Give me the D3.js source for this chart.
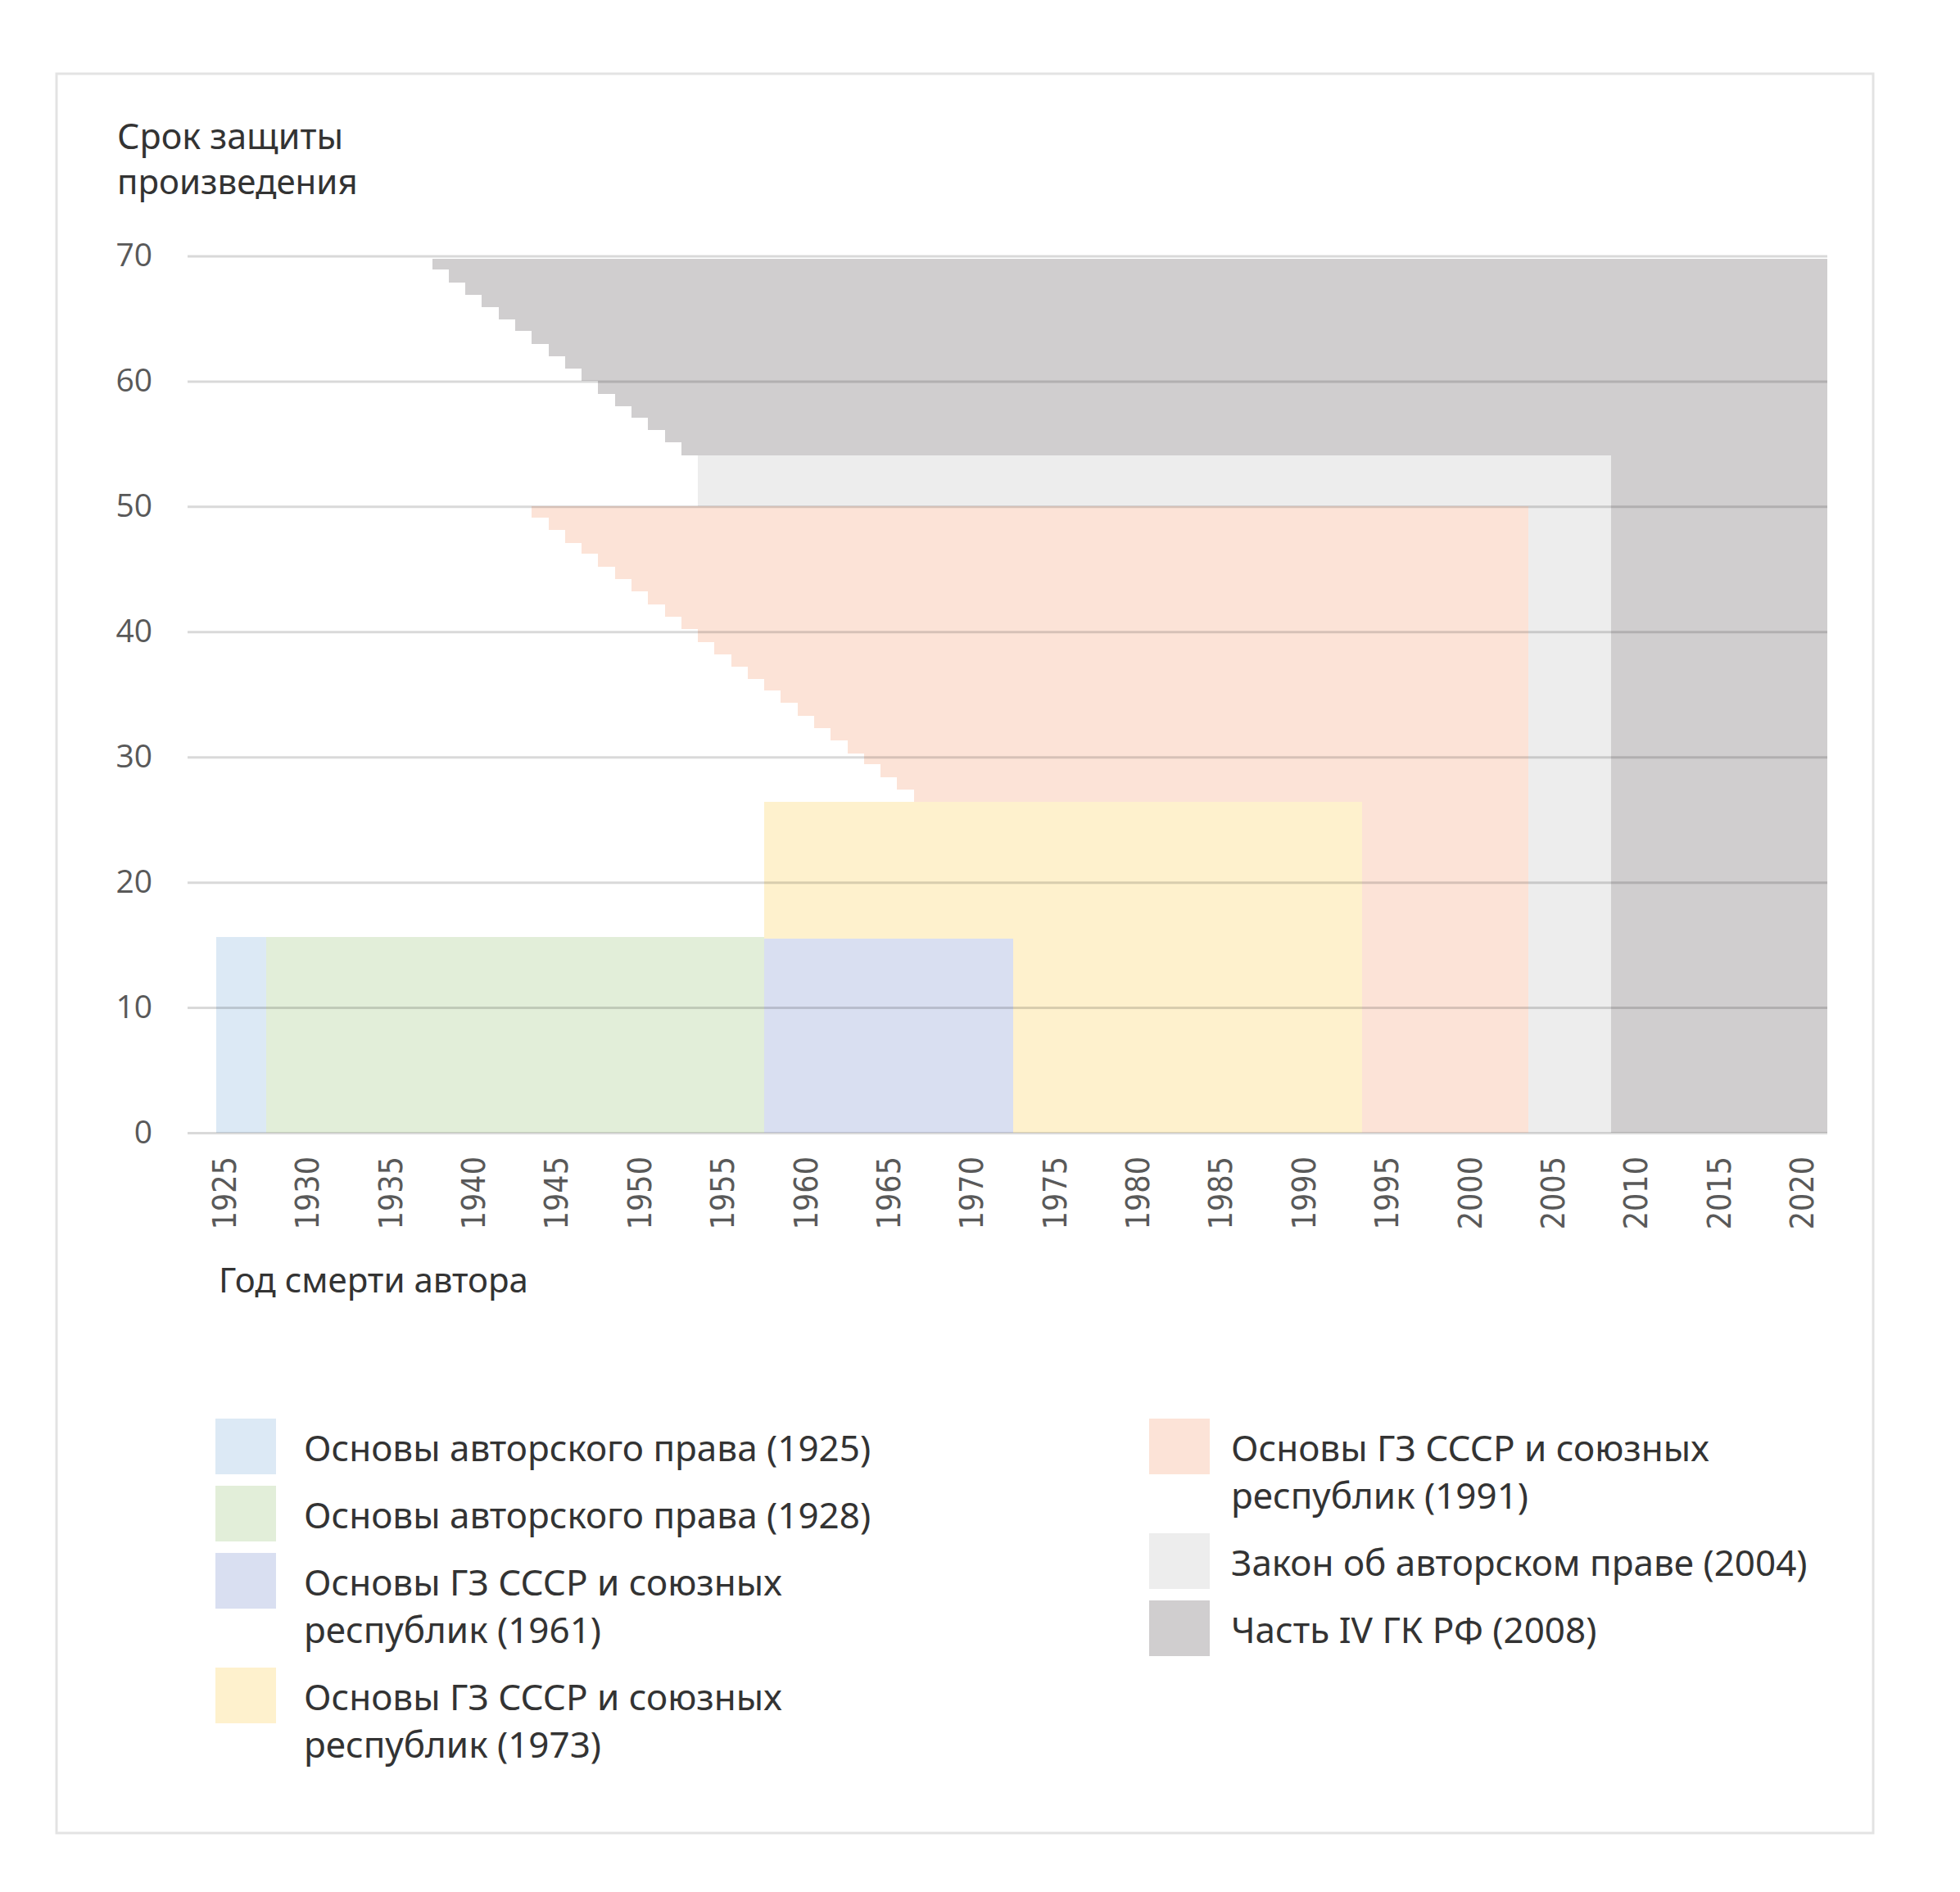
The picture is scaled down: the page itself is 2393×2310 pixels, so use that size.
<!DOCTYPE html>
<html>
<head>
<meta charset="utf-8">
<script src="https://cdn.jsdelivr.net/npm/d3@7"></script>
<style>
  body { margin: 0; background: #fff; }
  text { font-family: "Noto Sans", "Open Sans", sans-serif; }
</style>
</head>
<body>
<svg id="chart" width="2393" height="2310"></svg>
<script>
// year of the author's death, one column per year
const years = d3.range(1925, 2022);
const tickYears = [1925, 1930, 1935, 1940, 1945, 1950, 1955, 1960, 1965, 1970,
  1975, 1980, 1985, 1990, 1995, 2000, 2005, 2010, 2015, 2020];
const yTicks = [0, 10, 20, 30, 40, 50, 60, 70];

const lawNames = [
  ["Основы авторского права (1925)"],
  ["Основы авторского права (1928)"],
  ["Основы ГЗ СССР и союзных", "республик (1961)"],
  ["Основы ГЗ СССР и союзных", "республик (1973)"],
  ["Основы ГЗ СССР и союзных", "республик (1991)"],
  ["Закон об авторском праве (2004)"],
  ["Часть IV ГК РФ (2008)"]
];
const lawColors = ["#dce9f5", "#e2eed9", "#d9dff1", "#fef1cd", "#fce3d7", "#ededed", "#d0cecf"];

// blocks: [first year, last year, low, high]
const blocks1925 = [[1925, 1927, 0, 15.6]];
const blocks1928 = [[1928, 1957, 0, 15.6]];
const blocks1961 = [[1958, 1972, 0, 15.5]];
const blocks1973 = [[1958, 1972, 15.5, 26.45], [1973, 1993, 0, 26.45]];
const blocks1991 = [[1967, 1993, 26.45, 50], [1994, 2003, 0, 50]];
const blocks2004 = [[1954, 2003, 50, 54.05], [2004, 2008, 0, 54.05]];
const blocks2008 = [[1954, 2008, 54.05, 69.8], [2009, 2021, 0, 69.8]];

// staircases: low edge per year, top fixed
const stairs1991Start = 1944;
const stairs1991 = [49.1, 48.1, 47.1, 46.2, 45.2, 44.2, 43.2, 42.2, 41.2, 40.2, 39.2, 38.2,
  37.2, 36.2, 35.3, 34.3, 33.3, 32.3, 31.3, 30.3, 29.4, 28.4, 27.4];
const stairs2008Start = 1938;
const stairs2008 = [68.9, 67.9, 66.9, 65.9, 64.9, 64.0, 63.0, 62.0, 61.0, 60.0, 59.0, 58.0,
  57.1, 56.1, 55.1, 54.1];

function expand(blocks) {
  const out = [];
  blocks.forEach(([a, b, low, high]) => {
    for (let y = a; y <= b; y++) out.push({ year: y, low: low, high: high });
  });
  return out;
}
function stairs(start, lows, high) {
  return lows.map((low, i) => ({ year: start + i, low: low, high: high }));
}

const series = [
  expand(blocks1925),
  expand(blocks1928),
  expand(blocks1961),
  expand(blocks1973),
  stairs(stairs1991Start, stairs1991, 50).concat(expand(blocks1991)),
  expand(blocks2004),
  stairs(stairs2008Start, stairs2008, 69.8).concat(expand(blocks2008))
];

const svg = d3.select("#chart");

// frame
svg.append("rect")
  .attr("x", 69).attr("y", 90)
  .attr("width", 2218).attr("height", 2148)
  .attr("fill", "none")
  .attr("stroke", "#e3e3e3")
  .attr("stroke-width", 3);

const x = d3.scaleBand().domain(years).range([264, 2231]).padding(0);
const y = d3.scaleLinear().domain([0, 70]).range([1383, 312.5]);

// bars
series.forEach((rows, i) => {
  svg.append("g")
    .selectAll("rect")
    .data(rows)
    .enter()
    .append("rect")
    .attr("x", d => x(d.year))
    .attr("width", x.bandwidth())
    .attr("y", d => y(d.high))
    .attr("height", d => y(d.low) - y(d.high))
    .attr("fill", lawColors[i])
    .attr("shape-rendering", "crispEdges");
});

// y axis with gridlines on top of the bars
const yAxis = svg.append("g")
  .attr("transform", "translate(229,0)")
  .call(d3.axisLeft(y).tickValues(yTicks).tickSize(-(2231 - 229)).tickPadding(43));
yAxis.select(".domain").remove();
yAxis.selectAll("line")
  .attr("stroke", "rgba(0,0,0,0.15)")
  .attr("stroke-width", 3);
yAxis.selectAll("text")
  .attr("fill", "#595959")
  .style("font-family", "'Open Sans', 'Noto Sans', sans-serif")
  .style("font-size", "39px");

// x axis
const xAxis = svg.append("g")
  .attr("transform", "translate(0,1384)")
  .call(d3.axisBottom(x).tickValues(tickYears).tickSize(0));
xAxis.select(".domain").remove();
xAxis.selectAll("text")
  .attr("transform", "rotate(-90)")
  .attr("x", -28)
  .attr("y", 0)
  .attr("dy", "0.35em")
  .attr("text-anchor", "end")
  .attr("fill", "#595959")
  .style("font-family", "'DejaVu Sans Condensed', 'DejaVu Sans', sans-serif")
  .style("font-stretch", "condensed")
  .style("font-size", "39px");

// axis titles
svg.append("text")
  .attr("x", 143).attr("y", 182)
  .attr("fill", "#333")
  .style("font-size", "43px")
  .text("Срок защиты");
svg.append("text")
  .attr("x", 143).attr("y", 237)
  .attr("fill", "#333")
  .style("font-size", "42px")
  .text("произведения");
svg.append("text")
  .attr("x", 267).attr("y", 1578)
  .attr("fill", "#333")
  .style("font-size", "42px")
  .text("Год смерти автора");

// legend, two columns
const legendCols = [
  { items: [0, 1, 2, 3], swatchX: 263, textX: 371 },
  { items: [4, 5, 6], swatchX: 1403, textX: 1503 }
];
legendCols.forEach(col => {
  let top = 1732;
  col.items.forEach(i => {
    const g = svg.append("g");
    g.append("rect")
      .attr("x", col.swatchX).attr("y", top)
      .attr("width", 74).attr("height", 68)
      .attr("fill", lawColors[i]);
    g.selectAll("text")
      .data(lawNames[i])
      .enter()
      .append("text")
      .attr("x", col.textX)
      .attr("y", (d, k) => top + 52 + k * 58)
      .attr("fill", "#333")
      .style("font-size", "44px")
      .text(d => d);
    top += lawNames[i].length === 1 ? 82 : 140;
  });
});
</script>
</body>
</html>
